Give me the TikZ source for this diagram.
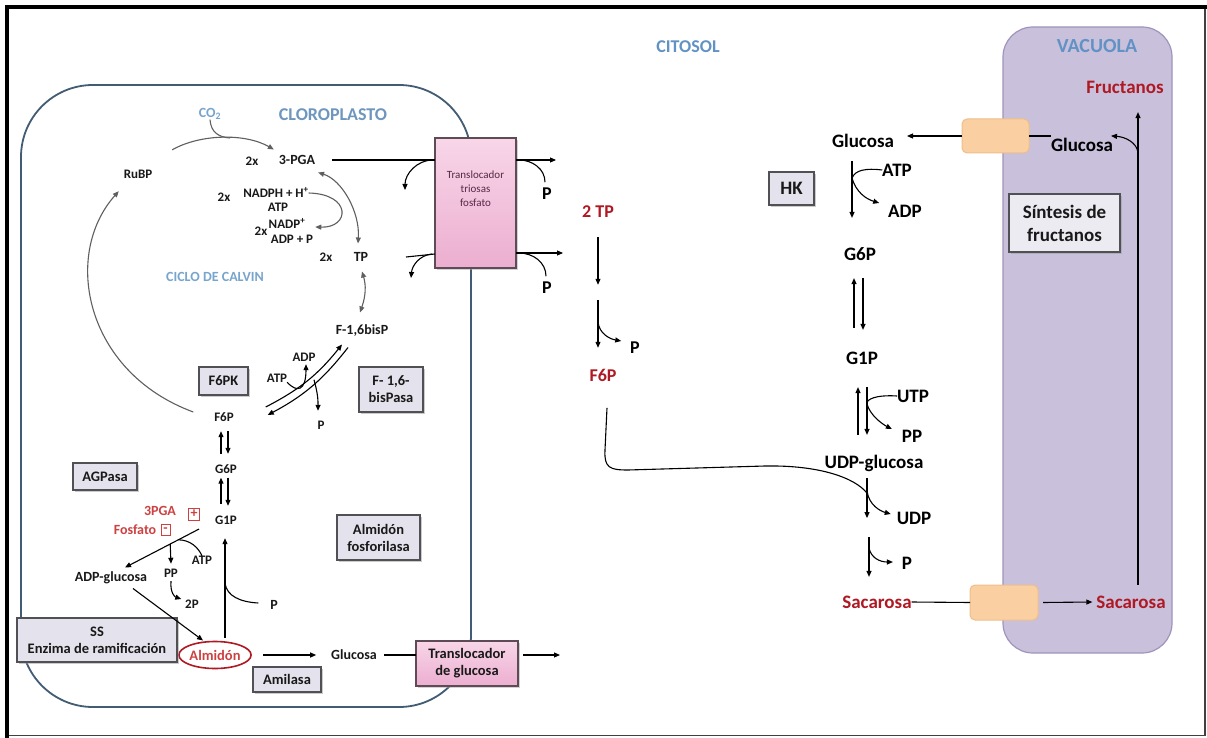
\documentclass[tikz,border=0pt]{standalone}
\usepackage{fontspec}
\setmainfont{Carlito}
\usetikzlibrary{arrows.meta,shadows,calc,shapes.geometric}
\definecolor{chl}{RGB}{66,92,116}
\definecolor{tblue}{RGB}{98,146,196}
\definecolor{cblue}{RGB}{110,150,190}
\definecolor{lblue}{RGB}{120,165,205}
\definecolor{vacf}{RGB}{201,192,220}
\definecolor{vacd}{RGB}{160,148,188}
\definecolor{peach}{RGB}{250,207,162}
\definecolor{peachd}{RGB}{238,190,140}
\definecolor{pinkT}{RGB}{248,214,232}
\definecolor{pinkB}{RGB}{236,174,208}
\definecolor{pinkd}{RGB}{95,75,85}
\definecolor{enzf}{RGB}{228,226,236}
\definecolor{enzd}{RGB}{80,80,85}
\definecolor{redd}{RGB}{175,25,35}
\definecolor{redl}{RGB}{205,65,65}
\definecolor{txt}{RGB}{25,25,25}
\definecolor{garc}{RGB}{95,95,95}
\definecolor{tritxt}{RGB}{85,40,70}
\begin{document}
\begin{tikzpicture}[x=1pt,y=-1pt,
  every node/.style={inner sep=0pt,outer sep=0pt},
  lbl/.style={font=\bfseries\fontsize{14}{16}\selectfont,text=txt,text height=9pt,text depth=0pt},
  sml/.style={font=\bfseries\fontsize{13}{15}\selectfont,text=txt,text height=8.4pt,text depth=0pt},
  big/.style={font=\bfseries\fontsize{19}{22}\selectfont,text=black,text height=12.2pt,text depth=0pt},
  midlbl/.style={font=\bfseries\fontsize{18}{20}\selectfont,text=black,text height=11.6pt,text depth=0pt},
  ttl/.style={font=\bfseries\fontsize{18}{20}\selectfont,text height=11.6pt,text depth=0pt},
  enz/.style={draw=enzd,line width=1.1pt,fill=enzf,align=center,drop shadow={shadow xshift=1.6pt,shadow yshift=-1.6pt,fill=black!40},font=\bfseries\fontsize{14.5}{17}\selectfont,text=txt},
  enzbig/.style={enz,font=\bfseries\fontsize{19}{23}\selectfont},
  pinkbox/.style={draw=pinkd,line width=1.1pt,top color=pinkT,bottom color=pinkB,drop shadow={shadow xshift=1.6pt,shadow yshift=-1.6pt,fill=black!35}},
  peachbox/.style={draw=peachd,line width=1pt,fill=peach,rounded corners=5pt},
  ln/.style={line width=1.1pt,draw=black},
  arr/.style={ln,-{Triangle[length=6pt,width=5pt]}},
  gln/.style={line width=1.1pt,draw=garc},
  garr/.style={gln,-{Triangle[length=6pt,width=5pt]}},
  gdarr/.style={gln,{Triangle[length=6pt,width=5pt]}-{Triangle[length=6pt,width=5pt]}},
  sign/.style={draw=redl,line width=0.9pt,minimum width=11pt,minimum height=12pt,font=\bfseries\fontsize{14}{14}\selectfont,text=redl}
]
\useasboundingbox (0,0) rectangle (1207,738);
\fill[white] (0,0) rectangle (1207,738);
% frame
\draw[line width=1.2pt,black!75] (1205,7) -- (1205,735.5) -- (7,735.5);
\draw[line width=4pt] (7,738) -- (7,7) -- (1207,7);
% compartments
\draw[line width=1.8pt,draw=chl,rounded corners=72pt] (21,85) rectangle (471,707);
\draw[line width=1.2pt,draw=vacd,fill=vacf,rounded corners=30pt] (1003,27) rectangle (1172,653);
% titles
\node[ttl,text=tblue] (citosol) at (688,47) {CITOSOL};
\node[ttl,text=tblue,font=\bfseries\fontsize{20}{22}\selectfont] (vacuola) at (1097,47) {VACUOLA};
\node[ttl,text=cblue] (cloro) at (333,115) {CLOROPLASTO};
\node[font=\bfseries\fontsize{14}{16}\selectfont,text=lblue] (co2) at (210,114) {CO\textsubscript{2}};
\node[font=\bfseries\fontsize{14}{16}\selectfont,text=lblue,text height=9pt,text depth=0pt] (calvin) at (215,277) {CICLO DE CALVIN};
% Calvin labels
\node[sml] (rubp) at (138,174) {RuBP};
\node[sml] (pga2x) at (252,161) {2x};
\node[lbl] (pga) at (297,160) {3-PGA};
\node[sml] (nad2x) at (224,197) {2x};
\node[sml] (nadph) at (276,193) {NADPH + H\textsuperscript{+}};
\node[sml] (atp1) at (278,207) {ATP};
\node[sml] (nadp2x) at (261,231) {2x};
\node[sml] (nadp) at (287,224) {NADP\textsuperscript{+}};
\node[sml] (adpp) at (292,239) {ADP + P};
\node[sml] (tp2x) at (326,257) {2x};
\node[lbl] (tp) at (361,257) {TP};
\node[lbl] (f16) at (362,330) {F-1,6bisP};
\node[enz,minimum width=49pt,minimum height=28pt] (f6pk) at (223.5,381) {F6PK};
\node[enz,minimum width=64pt,minimum height=45pt] (bisp) at (391,389.5) {F- 1,6-\\bisPasa};
\node[sml] (atp2) at (277,378) {ATP};
\node[sml] (adp2) at (304,357) {ADP};
\node[sml] (p2) at (321,425) {P};
\node[sml] (f6p) at (224,417) {F6P};
\node[sml] (g6p) at (226,469) {G6P};
\node[sml] (g1p) at (226,520) {G1P};
\node[enz,minimum width=64pt,minimum height=27pt] (agpasa) at (105,476.5) {AGPasa};
\node[lbl,text=redl] (pga3) at (160,511) {3PGA};
\node[sign] (plus) at (194,514) {+};
\node[lbl,text=redl] (fosfato) at (135,530) {Fosfato};
\node[sign,minimum width=9pt,minimum height=11pt] (minus) at (165.5,530) {-};
\node[lbl] (adpglu) at (111,577) {ADP-glucosa};
\node[sml] (pp) at (171,573) {PP};
\node[sml] (atp3) at (202,560) {ATP};
\node[sml] (twop) at (192,604) {2P};
\node[ellipse,draw=redd,line width=1.6pt,minimum width=60pt,minimum height=27pt,font=\bfseries\fontsize{14.5}{16}\selectfont,text=redl] (almidon) at (215,655) {Almidón};
\node[lbl] (p3) at (274,605) {P};
\node[enz,minimum width=160pt,minimum height=44pt] (ss) at (97,640) {SS\\Enzima de ramificación};
\node[enz,minimum width=83pt,minimum height=45pt] (afos) at (378.5,537.5) {Almidón\\fosforilasa};
\node[enz,minimum width=68pt,minimum height=25pt] (amilasa) at (287,679.5) {Amilasa};
\node[lbl] (glul) at (354,655) {Glucosa};
\node[pinkbox,minimum width=102pt,minimum height=45pt,align=center,font=\bfseries\fontsize{14.5}{17}\selectfont,text=txt] (tglu) at (467,663.5) {Translocador\\de glucosa};
\node[pinkbox,minimum width=81pt,minimum height=130pt] (ttri) at (475.5,203) {};
\node[font=\fontsize{11}{14}\selectfont,text=tritxt,align=center] (ttritxt) at (475.5,189) {Translocador\\triosas\\fosfato};
% middle labels
\node[midlbl] (p4) at (547,194) {P};
\node[midlbl] (p5) at (547,288) {P};
\node[midlbl,text=redd] (tp2) at (598,212) {2 TP};
\node[midlbl] (p6) at (635,348) {P};
\node[midlbl,text=redd] (f6pc) at (603,376) {F6P};
% right labels
\node[big] (gluc) at (863,141) {Glucosa};
\node[enzbig,minimum width=45pt,minimum height=33pt] (hk) at (791.5,188.5) {HK};
\node[big] (atp4) at (897,170) {ATP};
\node[big] (adp4) at (905,211) {ADP};
\node[big] (g6pc) at (860,254) {G6P};
\node[big] (g1pc) at (862,358) {G1P};
\node[big] (utp) at (913,396) {UTP};
\node[big] (ppc) at (912,436) {PP};
\node[big] (udpglu) at (874,462) {UDP-glucosa};
\node[big] (udp) at (914,518) {UDP};
\node[big] (p7) at (907,563) {P};
\node[big,text=redd] (sacc) at (877,602) {Sacarosa};
\node[peachbox,minimum width=67pt,minimum height=34pt] (trtop) at (995.5,136) {};
\node[peachbox,minimum width=68pt,minimum height=35pt] (trbot) at (1004,602.5) {};
\node[big] (gluv) at (1082,145) {Glucosa};
\node[big,text=redd] (fruct) at (1125,87) {Fructanos};
\node[enzbig,minimum width=111pt,minimum height=58pt,fill=enzf!70!white] (sint) at (1064.5,223) {Síntesis de\\fructanos};
\node[big,text=redd] (sacv) at (1131,602) {Sacarosa};
% ---- Calvin connectors
\draw[garr] ([shift={(20,-20)}]rubp.north east) .. controls (200,134) and (245,133) .. ([shift={(-5,-6)}]pga.north west);
\coordinate (co2j) at (230,138);
\draw[gln] (co2.south) .. controls (211,132) and (218,137) .. (co2j);
\draw[garr] (nadph.east) .. controls (352,194) and (350,228) .. ([shift={(10,3)}]nadp.east);
\draw[gdarr] ([shift={(3,8)}]pga.south east) .. controls (342,180) and (360,212) .. ([shift={(-3,-9)}]tp.north);
\draw[gdarr] ([shift={(1,10)}]tp.south) .. controls (366,285) and (366,295) .. ([shift={(-2,-13)}]f16.north);
\draw[garr] ([shift={(-21,-5)}]f6p.west) .. controls (85,372) and (62,255) .. ([shift={(-5,13)}]rubp.south west);
\draw[arr] ([shift={(32,-10)}]f6p.east) to[bend right=12] ([shift={(-20,10)}]f16.south);
\draw[arr] ([shift={(-14,13)}]f16.south) to[bend left=12] ([shift={(34,-2)}]f6p.east);
\draw[arr] (atp2.south east) .. controls (297,393) and (306,391) .. ([shift={(2,3)}]adp2.south);
\draw[arr] ([shift={(-7,-41)}]p2.north) to[bend left=8] ([shift={(-3,-10)}]p2.north);
\draw[arr] ([shift={(-5,-11)}]g6p.north) -- ([shift={(-3,10)}]f6p.south);
\draw[arr] ([shift={(4,10)}]f6p.south) -- ([shift={(2,-11)}]g6p.north);
\draw[arr] ([shift={(-5,-12)}]g1p.north) -- ([shift={(-5,4.5)}]g6p.south);
\draw[arr] ([shift={(2,4.5)}]g6p.south) -- ([shift={(2,-10)}]g1p.north);
% ---- starch
\coordinate (agA) at ([shift={(-16,9)}]g1p.west);
\coordinate (agB) at ([shift={(14,-5)}]adpglu.north);
\draw[arr] (agA) -- (agB);
\draw[ln] (atp3.north) .. controls (198,547) and (190,540) .. ($(agA)!0.28!(agB)$);
\draw[arr] ($(agA)!0.39!(agB)$) -- ([shift={(0,-5)}]pp.north);
\draw[arr] ([shift={(0,4)}]pp.south) .. controls (170,593) and (175,597) .. ([shift={(-4,-5)}]twop.west);
\draw[arr] ([shift={(22,7)}]adpglu.south) -- ([shift={(-12,-1)}]almidon.north);
\draw[arr] ([shift={(10,-4)}]almidon.north) -- ([shift={(-1,14)}]g1p.south);
\coordinate (pJ) at ([shift={(10,-58)}]almidon.north);
\draw[ln] ([shift={(-12,-2)}]p3.west) .. controls (240,602) and (227,596) .. (pJ);
\draw[arr] ([xshift=12pt]almidon.east) -- ([xshift=-15pt]glul.west);
\draw[ln] ([xshift=7pt]glul.east) -- (glul.east -| tglu.west);
\coordinate (tgE) at (glul.east -| tglu.east);
\coordinate (gluOut) at (560,655);
\draw[arr] ([xshift=5pt]tgE) -- (gluOut);
% ---- triose phosphate translocator
\coordinate (pgaR) at (pga.east -| ttri.west);
\draw[ln] ([xshift=17pt]pga.east) -- (pgaR);
\coordinate (pgaDn) at (405,190);
\draw[arr] ([xshift=-2pt]pgaR) to[out=180,in=90] (pgaDn);
\coordinate (ttR1) at (pga.east -| ttri.east);
\draw[arr] (ttR1) -- ([xshift=40pt]ttR1);
\draw[ln] ([shift={(-2,-6)}]p4.north) to[out=90,in=0] ([xshift=3pt]ttR1);
\coordinate (ttR2) at ([shift={(0,50)}]ttri.east);
\draw[arr] (ttR2) -- ([xshift=47pt]ttR2);
\draw[ln] ([shift={(-1,-6)}]p5.north) to[out=90,in=0] ([xshift=3pt]ttR2);
\coordinate (ttL2) at ([shift={(0,51)}]ttri.west);
\coordinate (ttL2a) at (406,257);
\draw[ln] (ttL2a) -- (ttL2);
\coordinate (ttDn2) at (411,278);
\draw[arr] ([xshift=-3pt]ttL2) to[out=185,in=85] (ttDn2);
% ---- cytosol middle
\coordinate (m1a) at ([shift={(0,19)}]tp2.south);
\coordinate (m1b) at ([shift={(0,67)}]tp2.south);
\draw[arr] (m1a) -- (m1b);
\coordinate (m2a) at ([shift={(0,82)}]tp2.south);
\coordinate (m2b) at ([shift={(0,130)}]tp2.south);
\draw[arr] (m2a) -- (m2b);
\draw[arr] ([shift={(0,22)}]m2a) to[out=-85,in=170] ([shift={(-9,-7)}]p6.west);
\coordinate (udpJ) at ([shift={(-7,25)}]udpglu.south);
\draw[ln] ([shift={(4,26)}]f6pc.south) -- (605,450) .. controls (604,468) and (610,470) .. (628,470) -- (765,466) .. controls (820,465) and (855,478) .. (udpJ);
% ---- cytosol right
\coordinate (hkA) at ([shift={(-11,14)}]gluc.south);
\coordinate (hkB) at ([shift={(-8,-30)}]g6pc.north);
\draw[arr] (hkA) -- (hkB);
\draw[ln] (atp4.west) .. controls (866,168) and (855,170) .. ($(hkA)!0.3!(hkB)$);
\draw[arr] ($(hkA)!0.3!(hkB)$) .. controls (856,192) and (866,199) .. ([shift={(-9,-8)}]adp4.west);
\draw[arr] ([shift={(-8,-24)}]g1pc.north) -- ([shift={(-6,18)}]g6pc.south);
\draw[arr] ([shift={(3,18)}]g6pc.south) -- ([shift={(1,-22)}]g1pc.north);
\draw[arr] ([shift={(-16,-21)}]udpglu.north) -- ([shift={(-4,23)}]g1pc.south);
\draw[arr] ([shift={(5,23)}]g1pc.south) -- ([shift={(-7,-21)}]udpglu.north);
\draw[ln] (utp.west) .. controls (882,395) and (870,397) .. ([shift={(5,38)}]g1pc.south);
\draw[arr] ([shift={(5,40)}]g1pc.south) .. controls (870,415) and (882,424) .. ([shift={(-10,-7)}]ppc.west);
\draw[arr] ([shift={(-7,10)}]udpglu.south) -- ([shift={(-7,50)}]udpglu.south);
\draw[arr] ([shift={(-7,23)}]udpglu.south) .. controls (869,505) and (880,511) .. ([shift={(-6,-4)}]udp.west);
\draw[arr] ([shift={(-8,-59)}]sacc.north) -- ([shift={(-8,-19)}]sacc.north);
\draw[arr] ([shift={(-8,-48)}]sacc.north) .. controls (871,558) and (880,562) .. ([shift={(-9,-1)}]p7.west);
\draw[ln] (sacc.east) -- (trbot.west);
\draw[arr] ([xshift=5pt]trbot.east) -- ([xshift=-4pt]sacv.west);
% ---- vacuole
\coordinate (vA) at ([shift={(7,-11)}]sacv.north);
\coordinate (vB) at ([shift={(13,19)}]fruct.south);
\draw[arr] (vA) -- (vB);
\coordinate (vj) at ($(vA)!0.914!(vB)$);
\draw[arr] (vj) .. controls (1137,143) and (1126,137) .. ([shift={(-2,-3)}]gluv.north east);
\coordinate (gcE) at (trtop.west -| gluc.east);
\draw[arr] (trtop.west) -- ([xshift=13pt]gcE);
\draw[ln] (trtop.east) -- (trtop.east -| gluv.west);
\end{tikzpicture}
\end{document}
